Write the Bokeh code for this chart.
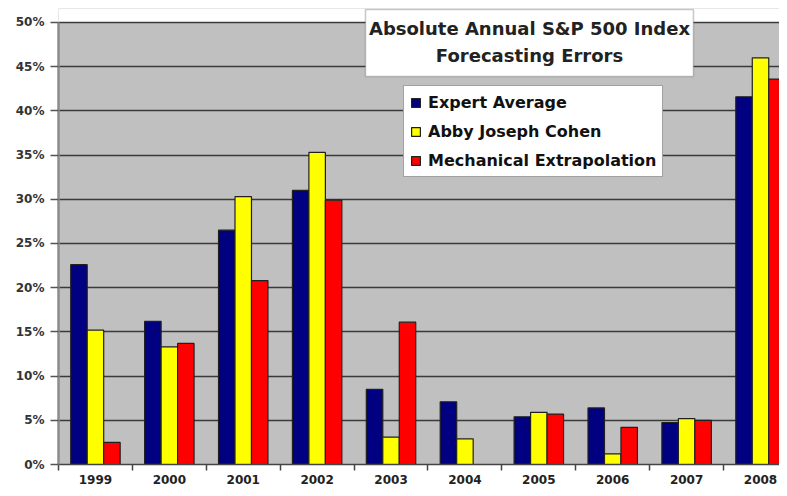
from bokeh.plotting import figure
from bokeh.models import (Range1d, FixedTicker, NumeralTickFormatter, Legend,
                          LegendItem, Label, ColumnDataSource, BoxAnnotation)
from bokeh.embed import file_html
from bokeh.resources import INLINE

years = ["1999", "2000", "2001", "2002", "2003", "2004", "2005", "2006", "2007", "2008"]
expert_average = [22.6, 16.2, 26.5, 31.0, 8.5, 7.1, 5.4, 6.4, 4.75, 41.6]
abby_cohen = [15.2, 13.3, 30.3, 35.3, 3.1, 2.9, 5.9, 1.2, 5.2, 46.0]
mechanical = [2.5, 13.7, 20.8, 29.9, 16.1, 0.0, 5.7, 4.2, 5.0, 43.6]
y_ticks = [0, 5, 10, 15, 20, 25, 30, 35, 40, 45, 50]

series = [
    ("Expert Average", expert_average, "#000080", -1),
    ("Abby Joseph Cohen", abby_cohen, "#FFFF00", 0),
    ("Mechanical Extrapolation", mechanical, "#FF0000", 1),
]

BAR_W = 0.223
FONT = "DejaVu Sans"
Y_TOP = 0.5158   # a little room above 50% for the title box
X_END = 9.757

p = figure(width=779, height=488, x_range=Range1d(0, X_END), y_range=Range1d(0, Y_TOP),
           output_backend="svg", toolbar_location=None,
           min_border_left=58, min_border_top=8, min_border_right=0, min_border_bottom=24)
p.background_fill_color = "#C0C0C0"
p.border_fill_color = "white"
p.outline_line_color = None
p.xgrid.visible = False
p.ygrid.grid_line_color = "#3a3a3a"
p.ygrid.grid_line_width = 1.5

centers = [i + 0.5 for i in range(len(years))]
items = []
for name, vals, color, k in series:
    src = ColumnDataSource(dict(x=[c + k * BAR_W for c in centers], top=[v / 100 for v in vals]))
    r = p.vbar(x="x", top="top", width=BAR_W, bottom=0, source=src,
               fill_color=color, line_color="#202020", line_width=1.2)
    items.append(LegendItem(label=name, renderers=[r]))

# white band above the 50% line (outside the chart's plot area)
p.add_layout(BoxAnnotation(left=0, right=X_END, bottom=0.5 + 1.0 / 884, top=Y_TOP,
                           fill_color="white", fill_alpha=1.0, line_color=None))

# y axis
p.yaxis.ticker = FixedTicker(ticks=[t / 100 for t in y_ticks])
p.yaxis.formatter = NumeralTickFormatter(format="0%")
p.yaxis.bounds = (0, 0.5)
p.yaxis.axis_line_color = "#8c8c8c"
p.yaxis.axis_line_width = 2.5
p.yaxis.major_tick_out = 8
p.yaxis.major_tick_in = 0
p.yaxis.major_tick_line_color = "#555555"
p.yaxis.major_tick_line_width = 1.5
p.yaxis.minor_tick_out = 0
p.yaxis.minor_tick_in = 0
p.yaxis.major_label_text_font = FONT
p.yaxis.major_label_text_font_style = "bold"
p.yaxis.major_label_text_font_size = "12px"
p.yaxis.major_label_text_color = "#333333"
p.yaxis.major_label_standoff = 6

# x axis
p.xaxis.ticker = FixedTicker(ticks=centers, minor_ticks=list(range(len(years) + 1)))
p.xaxis.major_label_overrides = {c: y for c, y in zip(centers, years)}
p.xaxis.major_tick_out = 0
p.xaxis.major_tick_in = 0
p.xaxis.minor_tick_out = 6
p.xaxis.minor_tick_in = 0
p.xaxis.minor_tick_line_color = "#444444"
p.xaxis.minor_tick_line_width = 1.5
p.xaxis.axis_line_color = "#444444"
p.xaxis.axis_line_width = 1.5
p.xaxis.major_label_text_font = FONT
p.xaxis.major_label_text_font_style = "bold"
p.xaxis.major_label_text_font_size = "12px"
p.xaxis.major_label_text_color = "#222222"
p.xaxis.major_label_standoff = 4

legend = Legend(items=items, location=(345, 287))
legend.label_text_font = FONT
legend.label_text_font_style = "bold"
legend.label_text_font_size = "16px"
legend.label_text_color = "#111111"
legend.glyph_width = 11
legend.glyph_height = 11
legend.label_standoff = 7
legend.label_height = 20
legend.spacing = 9
legend.padding = 6
legend.margin = 0
legend.background_fill_color = "white"
legend.background_fill_alpha = 1.0
legend.border_line_color = "#444444"
legend.border_line_width = 1.5
p.add_layout(legend)

# title box with two text lines
p.add_layout(BoxAnnotation(left=(365 - 58) / 73.9, right=(693 - 58) / 73.9,
                           bottom=(464 - 76) / 884, top=(464 - 9) / 884,
                           fill_color="white", fill_alpha=1.0,
                           line_color="#444444", line_width=1.5))
for txt, yv in [("Absolute Annual S&P 500 Index", (464 - 28) / 884),
                ("Forecasting Errors", (464 - 55) / 884)]:
    p.add_layout(Label(x=6.374, y=yv, text=txt, text_align="center", text_baseline="middle",
                       text_font=FONT, text_font_style="bold", text_font_size="18px",
                       text_color="#222222"))

open("out.html", "w").write(file_html(p, INLINE))
